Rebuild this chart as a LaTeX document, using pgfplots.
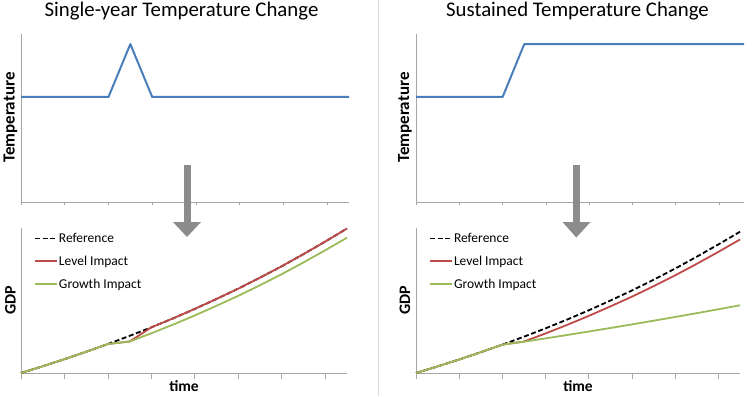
\documentclass[border=0pt]{standalone}
\usepackage{fontspec}
\setmainfont{Carlito}
\usepackage{pgfplots}
\pgfplotsset{compat=1.18}
\definecolor{tempblue}{HTML}{4A7EBB}
\definecolor{lvlred}{HTML}{BE4B48}
\definecolor{grgreen}{HTML}{9BBB59}
\definecolor{axgray}{HTML}{A6A6A6}
\definecolor{arrgray}{HTML}{8C8C8C}
\definecolor{sepgray}{HTML}{D9D9D9}

\pgfplotstableread{
x ref lvl gro
0 0 0 0
1 6.74 6.74 6.74
2 13.81 13.81 13.81
3 21.27 21.27 21.27
4 29.00 29.00 29.00
5 37.16 31.50 31.50
6 45.68 45.68 39.74
7 54.66 54.66 48.43
8 64.13 64.13 57.59
9 74.09 74.09 67.23
10 84.40 84.40 77.20
11 95.36 95.36 87.81
12 106.80 106.80 98.88
13 118.92 118.92 110.60
14 131.48 131.48 122.75
15 144.46 144.46 135.31
}\gdpsingle

\pgfplotstableread{
x ref lvl gro
0 0 0 0
1 6.59 6.59 6.59
2 13.51 13.51 13.51
3 20.80 20.80 20.80
4 28.36 28.36 28.36
5 36.34 31.48 31.30
6 44.68 39.59 34.63
7 53.46 48.12 38.03
8 62.72 57.12 41.49
9 72.46 66.59 45.02
10 82.54 76.39 48.62
11 93.26 86.81 52.29
12 104.45 97.69 56.03
13 116.30 109.20 59.85
14 128.59 121.15 63.75
15 141.28 133.48 67.72
}\gdpsustained

\pgfplotsset{
  base/.style={scale only axis, anchor=south west, axis x line=bottom, axis y line=left,
    axis line style={-, draw=axgray, line width=0.8bp}, xmin=0, ytick=\empty,
    xtick={0,2,...,14}, xticklabels={}, tick align=outside,
    tick style={draw=axgray, line width=0.8bp}, clip=false},
  toppanel/.style={base, height=168bp, ymin=0, ymax=1, major tick length=3bp},
  botpanel/.style={base, height=145bp, ymin=0, ymax=145, major tick length=6bp,
    legend style={at={(0,1)}, anchor=north west, xshift=13bp, yshift=-4bp, draw=none, fill=none,
      font=\fontsize{13.5bp}{15bp}\selectfont, row sep=10bp, inner sep=0pt,
      cells={anchor=west}, nodes={inner sep=1bp}},
    legend image code/.code={\draw[##1] (0bp,0bp) -- (22bp,0bp);}},
  tline/.style={color=tempblue, line width=2bp, line join=round},
  refl/.style={color=black, line width=1.8bp, dash pattern=on 5bp off 2.6bp},
  lvll/.style={color=lvlred, line width=1.8bp, line join=round},
  grol/.style={color=grgreen, line width=1.8bp, line join=round},
}

\begin{document}
\begin{tikzpicture}[x=1bp,y=1bp]
\useasboundingbox (0,0) rectangle (754,396);
\fill[white] (0,0) rectangle (754,396);
\draw[sepgray, line width=0.8bp] (378.5,0) -- (378.5,396);

% top left
\begin{axis}[toppanel, at={(21bp,194bp)}, width=328bp, xmax=15]
\addplot[tline] coordinates {(0,0.625) (4,0.625) (5,0.94) (6,0.625) (15,0.625)};
\end{axis}
% top right
\begin{axis}[toppanel, at={(416bp,194bp)}, width=328bp, xmax=15.15]
\addplot[tline] coordinates {(0,0.625) (4,0.625) (5,0.94) (15.15,0.94)};
\end{axis}
% bottom left
\begin{axis}[botpanel, at={(21bp,23bp)}, width=326bp, xmax=15]
\addplot[refl] table[x=x,y=ref] {\gdpsingle};
\addlegendentry{Reference}
\addplot[lvll] table[x=x,y=lvl] {\gdpsingle};
\addlegendentry{Level Impact}
\addplot[grol] table[x=x,y=gro] {\gdpsingle};
\addlegendentry{Growth Impact}
\end{axis}
% bottom right
\begin{axis}[botpanel, at={(416bp,23bp)}, width=324bp, xmax=15]
\addplot[refl] table[x=x,y=ref] {\gdpsustained};
\addlegendentry{Reference}
\addplot[lvll] table[x=x,y=lvl] {\gdpsustained};
\addlegendentry{Level Impact}
\addplot[grol] table[x=x,y=gro] {\gdpsustained};
\addlegendentry{Growth Impact}
\end{axis}

% arrows
\fill[arrgray] (184,231) rectangle (190.5,173.5);
\fill[arrgray] (173,174) -- (201,174) -- (187,159) -- cycle;
\fill[arrgray] (573,231) rectangle (579.5,173.5);
\fill[arrgray] (562.5,174) -- (590.5,174) -- (576.3,158.5) -- cycle;

% titles
\node[anchor=base, inner sep=0pt, font=\fontsize{20.8bp}{24bp}\selectfont] at (181.5,380) {Single-year Temperature Change};
\node[anchor=base, inner sep=0pt, font=\fontsize{20.8bp}{24bp}\selectfont] at (577.5,380) {Sustained Temperature Change};

% axis labels
\node[rotate=90, inner sep=0pt, font=\fontsize{17bp}{20bp}\selectfont\bfseries] at (10.5,278.5) {Temperature};
\node[rotate=90, inner sep=0pt, font=\fontsize{17bp}{20bp}\selectfont\bfseries] at (405,278.5) {Temperature};
\node[rotate=90, inner sep=0pt, font=\fontsize{16bp}{19bp}\selectfont\bfseries] at (10.5,96) {GDP};
\node[rotate=90, inner sep=0pt, font=\fontsize{16bp}{19bp}\selectfont\bfseries] at (405,96) {GDP};
\node[anchor=base, inner sep=0pt, font=\fontsize{15.5bp}{18bp}\selectfont\bfseries] at (184,5) {time};
\node[anchor=base, inner sep=0pt, font=\fontsize{15.5bp}{18bp}\selectfont\bfseries] at (578,5) {time};
\end{tikzpicture}
\end{document}
